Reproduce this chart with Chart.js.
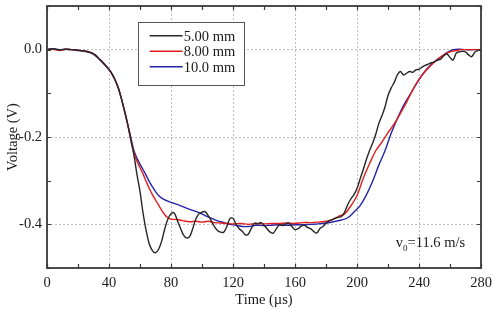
<!DOCTYPE html>
<html>
<head>
<meta charset="utf-8">
<script src="https://cdn.jsdelivr.net/npm/chart.js@4.4.1/dist/chart.umd.min.js"></script>
<style>
  html, body { margin: 0; padding: 0; background: #ffffff; }
  #wrap { width: 494px; height: 309px; }
</style>
</head>
<body>
<div id="wrap"><canvas id="c" width="494" height="309"></canvas></div>
<script>
// ---- Data ----
const seriesLabels = ["5.00 mm", "8.00 mm", "10.0 mm"];
const xTickValues = [0, 40, 80, 120, 160, 200, 240, 280];
const yTickValues = [-0.4, -0.2, 0.0];
const xMinorTicks = [0, 20, 40, 60, 80, 100, 120, 140, 160, 180, 200, 220, 240, 260, 280];
const yMinorTicks = [-0.5, -0.4, -0.3, -0.2, -0.1, 0.0, 0.1];

const t5 = [0,4,8,12,16,20,24,28,31,34,37,40,42,44,46,48,50,52,54,56,58,60,62,64,66,68,70,72,74,76,78,80,82,84,86,88,90,92,94,96,98,100,102,104,106,108,110,112,114,116,118,120,122,124,126,128,130,132,134,136,138,140,142,144,146,148,150,152,154,156,158,160,162,164,166,168,170,172,174,176,178,180,182,184,186,188,190,192,194,196,198,200,202,204,206,208,210,212,214,216,218,220,222,224,226,228,230,232,234,236,238,240,242,244,246,248,250,252,254,256,258,260,262,264,266,268,270,272,274,276,278,280];
const v5 = [0,0.002,-0.001,0.001,0,-0.001,-0.003,-0.006,-0.012,-0.022,-0.033,-0.045,-0.056,-0.07,-0.088,-0.112,-0.14,-0.17,-0.205,-0.24,-0.285,-0.325,-0.375,-0.415,-0.445,-0.46,-0.465,-0.457,-0.438,-0.41,-0.388,-0.376,-0.374,-0.39,-0.408,-0.424,-0.431,-0.428,-0.41,-0.388,-0.376,-0.372,-0.371,-0.38,-0.392,-0.405,-0.414,-0.418,-0.418,-0.405,-0.387,-0.386,-0.4,-0.41,-0.416,-0.424,-0.422,-0.408,-0.397,-0.399,-0.396,-0.402,-0.41,-0.418,-0.42,-0.41,-0.401,-0.403,-0.399,-0.397,-0.405,-0.412,-0.41,-0.404,-0.402,-0.407,-0.41,-0.416,-0.42,-0.41,-0.405,-0.398,-0.392,-0.389,-0.386,-0.384,-0.382,-0.372,-0.355,-0.342,-0.332,-0.318,-0.296,-0.275,-0.252,-0.232,-0.215,-0.195,-0.17,-0.152,-0.132,-0.105,-0.088,-0.075,-0.058,-0.05,-0.058,-0.054,-0.05,-0.052,-0.046,-0.045,-0.04,-0.036,-0.033,-0.03,-0.028,-0.024,-0.022,-0.014,-0.01,-0.018,-0.024,-0.008,-0.005,-0.004,-0.005,-0.012,-0.016,-0.006,-0.002,0];

const t8 = [0,4,8,12,16,20,24,28,31,34,37,40,42,44,46,48,50,52,54,56,58,60,62,64,66,68,70,72,74,76,78,80,84,88,92,96,100,104,108,112,116,120,125,130,135,140,145,150,155,160,165,170,175,180,184,188,192,196,200,204,208,212,216,220,224,228,232,236,240,244,248,252,256,260,264,268,272,276,280];
const v8 = [0,0.001,-0.002,0.001,0,-0.001,-0.003,-0.006,-0.012,-0.022,-0.033,-0.045,-0.056,-0.07,-0.088,-0.112,-0.14,-0.17,-0.205,-0.235,-0.255,-0.27,-0.285,-0.302,-0.318,-0.332,-0.344,-0.356,-0.368,-0.378,-0.385,-0.388,-0.389,-0.392,-0.394,-0.393,-0.395,-0.393,-0.396,-0.397,-0.398,-0.399,-0.398,-0.4,-0.398,-0.399,-0.398,-0.398,-0.397,-0.398,-0.396,-0.396,-0.395,-0.393,-0.39,-0.382,-0.376,-0.358,-0.334,-0.295,-0.262,-0.232,-0.212,-0.19,-0.17,-0.146,-0.12,-0.092,-0.068,-0.05,-0.035,-0.022,-0.012,-0.005,-0.002,0,0,0,0];

const t10 = [0,4,8,12,16,20,24,28,31,34,37,40,42,44,46,48,50,52,54,56,58,60,62,64,66,68,70,72,74,76,78,82,86,90,94,98,102,106,110,114,118,122,126,130,135,140,145,150,155,160,165,170,175,180,185,190,194,198,202,206,210,214,218,222,226,230,234,238,242,246,250,254,258,262,266,270,275,280];
const v10 = [0,0.002,0,0.001,0,-0.002,-0.004,-0.007,-0.013,-0.023,-0.034,-0.046,-0.056,-0.07,-0.088,-0.112,-0.14,-0.17,-0.2,-0.23,-0.248,-0.262,-0.275,-0.288,-0.302,-0.314,-0.325,-0.334,-0.34,-0.344,-0.347,-0.352,-0.357,-0.363,-0.368,-0.373,-0.38,-0.386,-0.392,-0.396,-0.4,-0.402,-0.405,-0.405,-0.402,-0.403,-0.402,-0.401,-0.402,-0.401,-0.401,-0.4,-0.399,-0.397,-0.394,-0.39,-0.385,-0.372,-0.357,-0.333,-0.302,-0.265,-0.232,-0.192,-0.158,-0.128,-0.104,-0.08,-0.058,-0.04,-0.027,-0.017,-0.007,0,0.001,0,0,0];

const seriesColors = ["#262626", "#e01e1e", "#2424a8"];

// legend box corners and annotation anchor in data units
const legendBoxX = [58.5, 127];
const legendBoxY = [0.064, -0.08];
const annotationAt = [225, -0.451];

function pairs(xs, ys) { return xs.map((x, i) => ({ x: x, y: ys[i] })); }

const FONT = "'Liberation Serif', 'Times New Roman', serif";
const FS = 14.5;

// Inward tick marks, frame, legend box and annotation
const decorPlugin = {
  id: 'decor',
  afterDatasetsDraw(chart) {
    const ctx = chart.ctx;
    const a = chart.chartArea;
    const xs = chart.scales.x, ys = chart.scales.y;
    ctx.save();
    ctx.strokeStyle = '#3a3a3a';
    ctx.lineWidth = 1.2;
    const L = 4;
    ctx.beginPath();
    xMinorTicks.forEach(v => {
      const px = Math.round(xs.getPixelForValue(v)) + 0.5;
      ctx.moveTo(px, a.bottom); ctx.lineTo(px, a.bottom - L);
      ctx.moveTo(px, a.top); ctx.lineTo(px, a.top + L);
    });
    yMinorTicks.forEach(v => {
      const py = Math.round(ys.getPixelForValue(v)) + 0.5;
      ctx.moveTo(a.left, py); ctx.lineTo(a.left + L, py);
      ctx.moveTo(a.right, py); ctx.lineTo(a.right - L, py);
    });
    ctx.stroke();
    // frame
    ctx.lineWidth = 1.8;
    ctx.strokeStyle = '#3a3a3a';
    ctx.strokeRect(a.left, a.top, a.right - a.left, a.bottom - a.top);

    // legend
    const lx = xs.getPixelForValue(legendBoxX[0]);
    const lx2 = xs.getPixelForValue(legendBoxX[1]);
    const ly = ys.getPixelForValue(legendBoxY[0]);
    const ly2 = ys.getPixelForValue(legendBoxY[1]);
    ctx.fillStyle = '#ffffff';
    ctx.fillRect(lx, ly, lx2 - lx, ly2 - ly);
    ctx.lineWidth = 1;
    ctx.strokeStyle = '#555555';
    ctx.strokeRect(Math.round(lx) + 0.5, Math.round(ly) + 0.5, Math.round(lx2 - lx), Math.round(ly2 - ly));
    ctx.font = FS + 'px ' + FONT;
    ctx.textBaseline = 'middle';
    ctx.textAlign = 'left';
    chart.data.datasets.forEach((ds, i) => {
      const yy = ly + 14 + i * 15.5;
      ctx.strokeStyle = ds.borderColor;
      ctx.lineWidth = 1.6;
      ctx.beginPath();
      ctx.moveTo(lx + 12, yy); ctx.lineTo(lx + 45, yy);
      ctx.stroke();
      ctx.fillStyle = '#1a1a1a';
      ctx.fillText(ds.label, lx + 46, yy + 1);
    });

    // annotation v0=11.6 m/s
    const ax = xs.getPixelForValue(annotationAt[0]);
    const ay = ys.getPixelForValue(annotationAt[1]);
    ctx.fillStyle = '#1a1a1a';
    ctx.textBaseline = 'alphabetic';
    ctx.font = FS + 'px ' + FONT;
    ctx.fillText('v', ax, ay);
    const w1 = ctx.measureText('v').width;
    ctx.font = '9px ' + FONT;
    ctx.fillText('0', ax + w1, ay + 4);
    const w2 = ctx.measureText('0').width;
    ctx.font = FS + 'px ' + FONT;
    ctx.fillText('=11.6 m/s', ax + w1 + w2, ay);
    ctx.restore();
  }
};

new Chart(document.getElementById('c'), {
  type: 'line',
  data: {
    datasets: [
      { label: seriesLabels[0], data: pairs(t5, v5), borderColor: seriesColors[0] },
      { label: seriesLabels[1], data: pairs(t8, v8), borderColor: seriesColors[1] },
      { label: seriesLabels[2], data: pairs(t10, v10), borderColor: seriesColors[2] }
    ].map(d => Object.assign(d, { borderWidth: 1.4, pointRadius: 0, tension: 0.35, fill: false }))
  },
  options: {
    responsive: false,
    animation: false,
    devicePixelRatio: 1,
    layout: { padding: { top: 6, right: 13, left: 0, bottom: 0 } },
    plugins: { legend: { display: false }, tooltip: { enabled: false } },
    scales: {
      x: {
        type: 'linear', min: 0, max: 280,
        afterBuildTicks: s => { s.ticks = xTickValues.map(v => ({ value: v })); },
        afterFit: s => { s.height = 41; s.paddingLeft = 0; s.paddingRight = 0; },
        border: { display: false, dash: [2, 2] },
        grid: { drawTicks: false, color: '#bdbdbd', lineWidth: 1, tickLength: 0 },
        ticks: { color: '#1a1a1a', font: { family: FONT, size: FS }, padding: 6, maxRotation: 0, callback: v => String(v) },
        title: { display: true, text: 'Time (µs)', color: '#1a1a1a', font: { family: FONT, size: FS }, padding: { top: 0, bottom: 0 } }
      },
      y: {
        type: 'linear', min: -0.5, max: 0.1,
        afterBuildTicks: s => { s.ticks = yTickValues.map(v => ({ value: v })); },
        afterFit: s => { s.width = 47; s.paddingTop = 0; s.paddingBottom = 0; },
        border: { display: false, dash: [2, 2] },
        grid: { drawTicks: false, color: '#bdbdbd', lineWidth: 1, tickLength: 0 },
        ticks: { color: '#1a1a1a', font: { family: FONT, size: FS }, padding: 5, callback: v => v.toFixed(1) },
        title: { display: true, text: 'Voltage (V)', color: '#1a1a1a', font: { family: FONT, size: FS }, padding: { top: 4, bottom: 0 } }
      }
    }
  },
  plugins: [decorPlugin]
});
</script>
</body>
</html>
